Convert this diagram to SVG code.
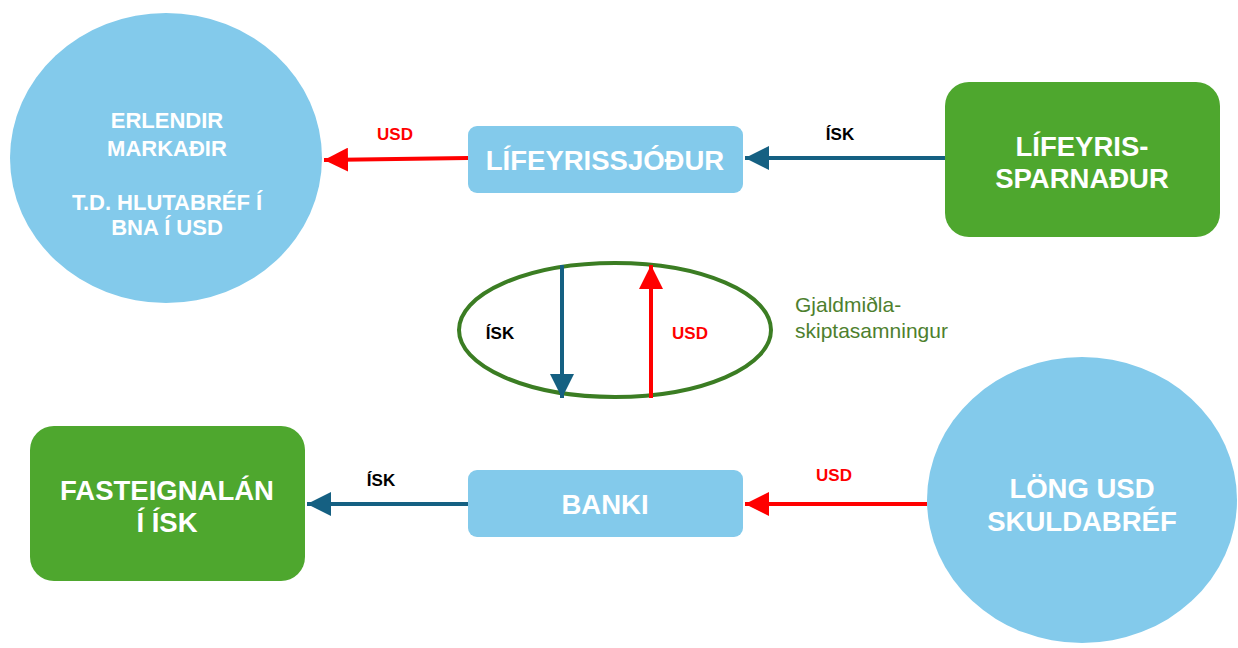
<svg xmlns="http://www.w3.org/2000/svg" width="1238" height="648" viewBox="0 0 1238 648">
<style>
.lb{fill:#83CAEB}
.gr{fill:#4EA72E}
.nt{font-family:"Liberation Sans",Arial,sans-serif;font-weight:bold;fill:#fff;text-anchor:middle}
.el{font-family:"Liberation Sans",Arial,sans-serif;font-weight:bold;font-size:17px;text-anchor:middle}
.red{stroke:#FF0000;stroke-width:4;fill:none}
.blue{stroke:#156082;stroke-width:4;fill:none}
</style>
<defs>
<marker id="ar" viewBox="0 0 10 10" refX="10" refY="5" markerWidth="6" markerHeight="6" markerUnits="strokeWidth" orient="auto"><path d="M0,0L10,5L0,10z" fill="#FF0000"/></marker>
<marker id="ab" viewBox="0 0 10 10" refX="10" refY="5" markerWidth="6" markerHeight="6" markerUnits="strokeWidth" orient="auto"><path d="M0,0L10,5L0,10z" fill="#156082"/></marker>
</defs>
<rect width="1238" height="648" fill="#fff"/>
<g id="erlendir">
<ellipse class="lb" cx="166" cy="158" rx="156" ry="145"/>
<text class="nt" font-size="22" x="167" y="128">ERLENDIR</text>
<text class="nt" font-size="22" x="167" y="156">MARKAÐIR</text>
<text class="nt" font-size="22" x="167" y="210">T.D. HLUTABRÉF Í</text>
<text class="nt" font-size="22" x="167" y="235">BNA Í USD</text>
</g>
<g id="lifeyrissjodur">
<rect class="lb" x="468" y="126" width="275" height="67" rx="9"/>
<text class="nt" font-size="27.5" x="605" y="170">LÍFEYRISSJÓÐUR</text>
</g>
<g id="lifeyrissparnadur">
<rect class="gr" x="945" y="82" width="275" height="155" rx="24"/>
<text class="nt" font-size="27.5" x="1082" y="156">LÍFEYRIS-</text>
<text class="nt" font-size="27.5" x="1082" y="188">SPARNAÐUR</text>
</g>
<g id="swap">
<ellipse cx="615" cy="330" rx="156" ry="67" fill="none" stroke="#3B7D23" stroke-width="4"/>
<text x="795" y="312" font-family="'Liberation Sans',Arial,sans-serif" font-size="21" fill="#4E7F2E">Gjaldmiðla-</text>
<text x="795" y="338" font-family="'Liberation Sans',Arial,sans-serif" font-size="21" fill="#4E7F2E">skiptasamningur</text>
</g>
<g id="fasteignalan">
<rect class="gr" x="30" y="426" width="275" height="155" rx="24"/>
<text class="nt" font-size="27.5" x="167" y="500">FASTEIGNALÁN</text>
<text class="nt" font-size="27.5" x="167" y="532">Í ÍSK</text>
</g>
<g id="banki">
<rect class="lb" x="468" y="470" width="275" height="67" rx="9"/>
<text class="nt" font-size="27.5" x="605" y="514">BANKI</text>
</g>
<g id="long-usd">
<ellipse class="lb" cx="1082" cy="500" rx="155" ry="143"/>
<text class="nt" font-size="27.5" x="1082" y="498">LÖNG USD</text>
<text class="nt" font-size="27.5" x="1082" y="531">SKULDABRÉF</text>
</g>
<g id="connectors">
<line class="red" x1="468" y1="158" x2="324" y2="160" marker-end="url(#ar)"/>
<text class="el" fill="#FF0000" x="395" y="140">USD</text>
<line class="blue" x1="945" y1="158" x2="745" y2="158" marker-end="url(#ab)"/>
<text class="el" fill="#000" x="840" y="140">ÍSK</text>
<line class="blue" x1="562" y1="265" x2="562" y2="398" marker-end="url(#ab)"/>
<text class="el" fill="#000" x="500" y="339">ÍSK</text>
<line class="red" x1="651" y1="398" x2="651" y2="265" marker-end="url(#ar)"/>
<text class="el" fill="#FF0000" x="690" y="339">USD</text>
<line class="blue" x1="468" y1="504" x2="307" y2="504" marker-end="url(#ab)"/>
<text class="el" fill="#000" x="381" y="486">ÍSK</text>
<line class="red" x1="927" y1="504" x2="745" y2="504" marker-end="url(#ar)"/>
<text class="el" fill="#FF0000" x="834" y="481">USD</text>
</g>
</svg>
